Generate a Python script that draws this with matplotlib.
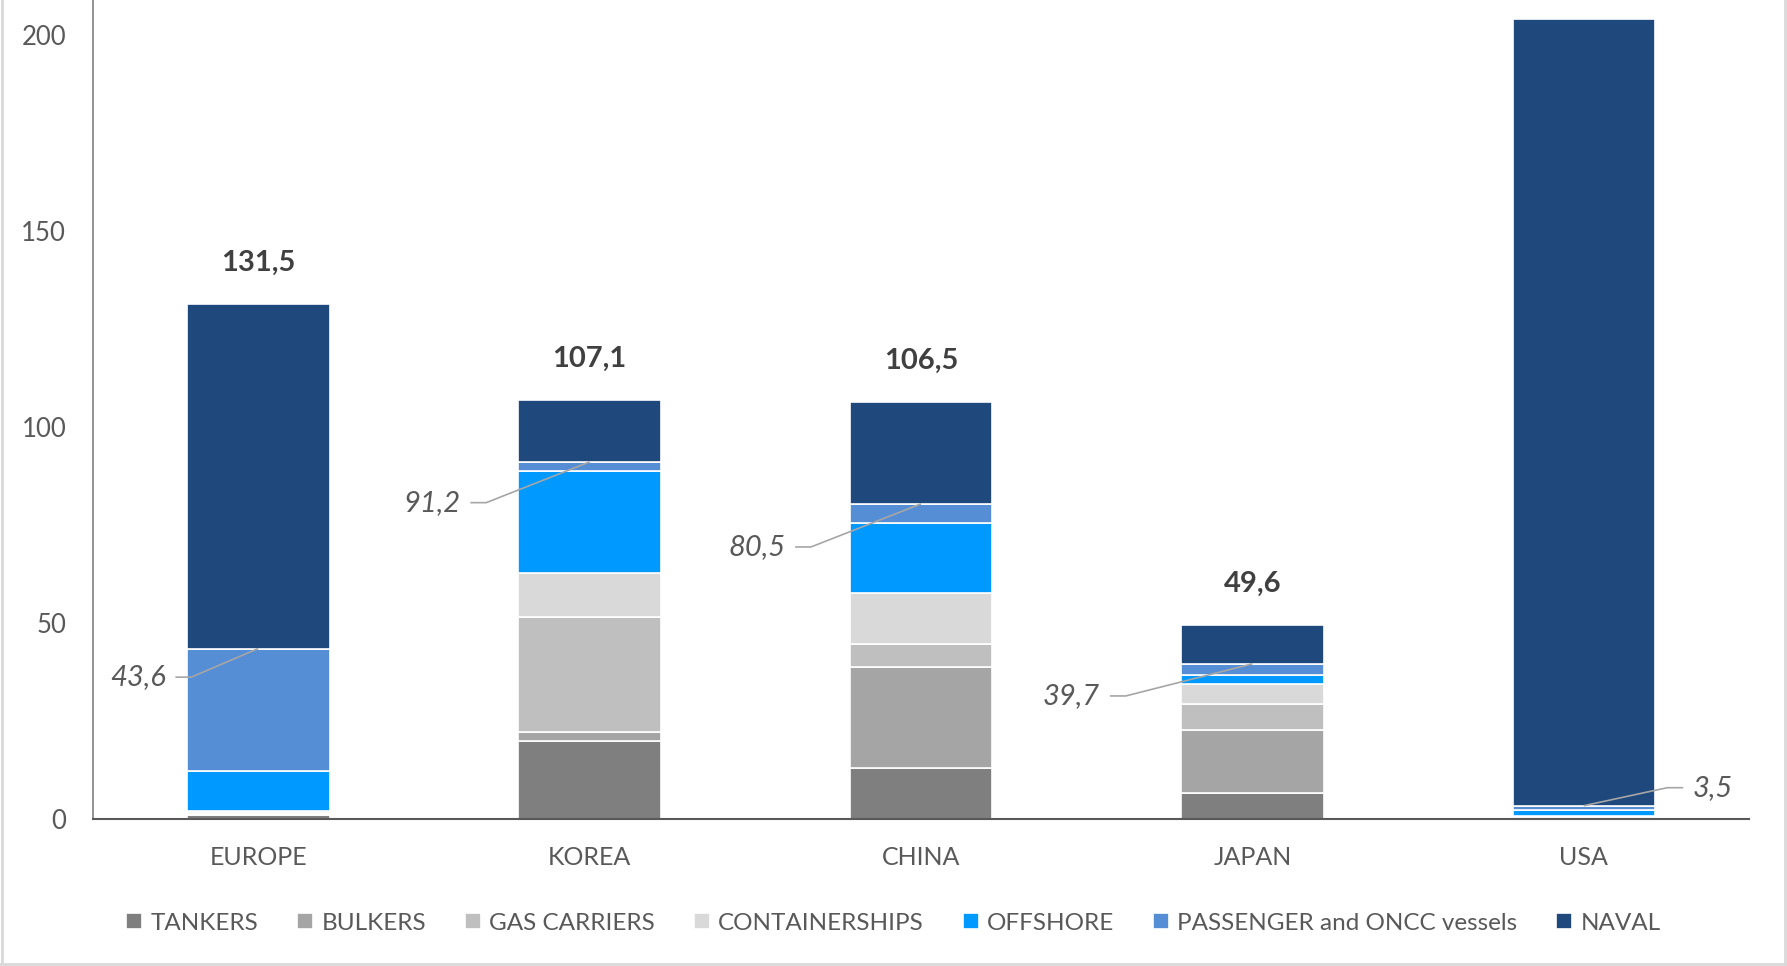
import numpy as np
import matplotlib
matplotlib.use("Agg")
import matplotlib.pyplot as plt
from matplotlib.lines import Line2D

plt.rcParams['font.family'] = ['Lato', 'DejaVu Sans']

# ---- data (stacked by segment, per region) ----
regions = ["EUROPE", "KOREA", "CHINA", "JAPAN", "USA"]
segments = ["TANKERS", "BULKERS", "GAS CARRIERS", "CONTAINERSHIPS",
            "OFFSHORE", "PASSENGER and ONCC vessels", "NAVAL"]

tankers        = [1.1, 20.0, 13.1, 6.8, 0.5]
bulkers        = [0.3, 2.4, 25.7, 16.1, 0.1]
gas_carriers   = [0.3, 29.3, 5.9, 6.6, 0.1]
containerships = [0.5, 11.1, 13.0, 5.0, 0.3]
offshore       = [10.2, 26.1, 17.9, 2.3, 1.4]
passenger      = [31.2, 2.3, 4.9, 2.9, 1.1]
naval          = [87.9, 15.9, 26.0, 9.9, 200.7]

civil_totals = [43.6, 91.2, 80.5, 39.7, 3.5]
totals = [131.5, 107.1, 106.5, 49.6, None]

colors = ["#7f7f7f", "#a5a5a5", "#bfbfbf", "#d9d9d9",
          "#0099ff", "#558ed5", "#1f497d"]

# leader-line label placement: (start dx from bar centre, dy from value)
civil_label_pos = [(-0.25, -7.3), (-0.36, -10.4), (-0.38, -11.0),
                   (-0.43, -8.2), (0.30, 4.6)]

# ---- figure ----
fig = plt.figure(figsize=(17.87, 9.66), dpi=100)
ax = fig.add_axes([0.0518, 0.1517, 0.9272, 0.8483])

x = np.arange(len(regions))
bottom = np.zeros(len(regions))
series = [tankers, bulkers, gas_carriers, containerships, offshore, passenger, naval]
for name, vals, col in zip(segments, series, colors):
    ax.bar(x, vals, width=0.43, bottom=bottom, color=col, label=name,
           edgecolor="white", linewidth=1.2)
    bottom += np.array(vals)

ax.set_xlim(-0.5, len(regions) - 0.5)
ax.set_ylim(0, 209)
ax.set_yticks([0, 50, 100, 150, 200])
ax.set_xticks(x)
ax.set_xticklabels(regions, fontsize=18)
ax.tick_params(axis="both", length=0, labelcolor="#595959")
ax.tick_params(axis="y", labelsize=18.5, pad=19)
ax.tick_params(axis="x", pad=19)

for s in ["top", "right"]:
    ax.spines[s].set_visible(False)
ax.spines["left"].set_color("#7f7f7f")
ax.spines["left"].set_linewidth(1.2)
ax.spines["bottom"].set_color("#595959")
ax.spines["bottom"].set_linewidth(1.5)

# bold totals above bars
for xi, tot in zip(x, totals):
    if tot is None:
        continue
    ax.annotate(f"{tot:.1f}".replace(".", ","), (xi, tot),
                xytext=(0, 29.5), textcoords="offset points",
                ha="center", va="center", fontsize=21, fontweight="bold",
                color="#404040")

# italic civil totals with leader lines
for xi, val, (dx, dy) in zip(x, civil_totals, civil_label_pos):
    sx = xi + dx
    sy = val + dy
    elbow = sx + (0.048 if dx < 0 else -0.048)
    ax.plot([sx, elbow, xi], [sy, sy, val], color="#a6a6a6", lw=1.2,
            solid_capstyle="butt", zorder=5, clip_on=False)
    txt = f"{val:.1f}".replace(".", ",")
    if dx < 0:
        ax.text(sx - 0.03, sy, txt, ha="right", va="center", fontsize=21,
                style="italic", color="#595959")
    else:
        ax.text(sx + 0.03, sy, txt, ha="left", va="center", fontsize=21,
                style="italic", color="#595959")

fig.legend(loc="center", bbox_to_anchor=(0.5, 1 - 923 / 966), ncol=7,
           frameon=False, fontsize=17.5, handlelength=0.65, handleheight=0.65,
           handletextpad=0.35, columnspacing=1.6, labelcolor="#595959")

# chart frame
for xs, ys in [([0.001, 0.001], [0, 1]), ([0, 1], [0.002, 0.002]),
               ([0.999, 0.999], [0, 1])]:
    fig.add_artist(Line2D(xs, ys, color="#d9d9d9", lw=2, transform=fig.transFigure))

fig.savefig("out.png", dpi=100)
